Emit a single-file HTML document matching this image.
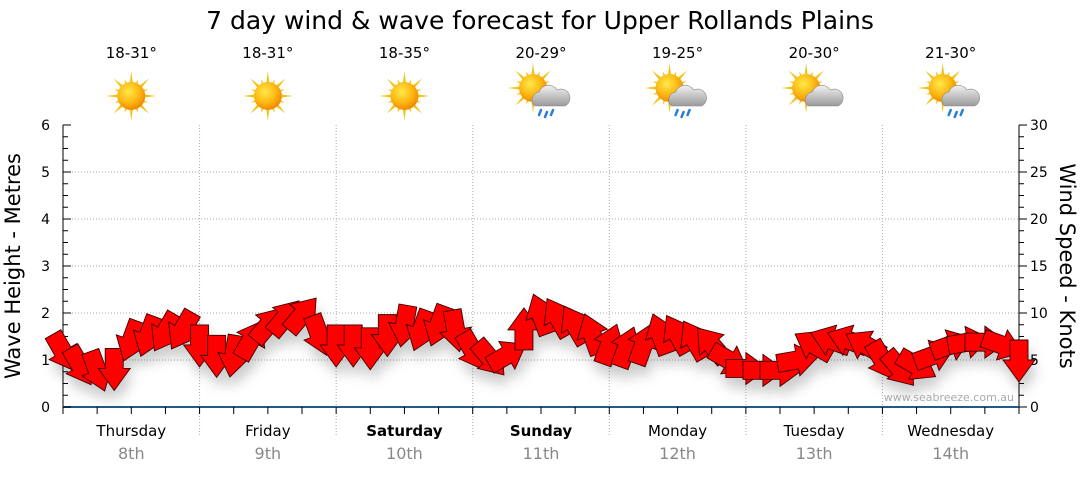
<!DOCTYPE html>
<html><head><meta charset="utf-8"><style>
body{margin:0;background:#fff;width:1080px;height:475px;overflow:hidden;font-family:"Liberation Sans","DejaVu Sans",sans-serif}
svg text{font-family:"DejaVu Sans","Liberation Sans",sans-serif}
</style></head><body>
<svg id="chart" width="1080" height="475" viewBox="0 0 1080 475">
<defs>
<radialGradient id="sunG" cx="40%" cy="35%" r="65%"><stop offset="0" stop-color="#ffe94a"/><stop offset="0.6" stop-color="#fdb813"/><stop offset="1" stop-color="#f08a00"/></radialGradient>
<linearGradient id="cloudG" x1="0" y1="0" x2="0" y2="1"><stop offset="0" stop-color="#f2f2f2"/><stop offset="1" stop-color="#9a9a9a"/></linearGradient>
<filter id="shadow" x="-50%" y="-50%" width="200%" height="200%"><feDropShadow dx="3" dy="10" stdDeviation="6" flood-color="#000" flood-opacity="0.2"/></filter>
</defs>
<text x="540" y="29" font-size="25" text-anchor="middle" fill="#000">7 day wind &amp; wave forecast for Upper Rollands Plains</text>
<g id="grid"></g><g id="axes"></g><g id="weather"></g><g id="arrows" filter="url(#shadow)"></g>
<text x="1014" y="401" font-size="11" fill="#aaa" text-anchor="end">www.seabreeze.com.au</text>
<text transform="translate(20,266) rotate(-90)" font-size="21" text-anchor="middle">Wave Height - Metres</text>
<text transform="translate(1060,266) rotate(90)" font-size="21" text-anchor="middle">Wind Speed - Knots</text>
</svg>
<script>
const days=["Thursday","Friday","Saturday","Sunday","Monday","Tuesday","Wednesday"];
const dates=["8th","9th","10th","11th","12th","13th","14th"];
const boldDays=[false,false,true,true,false,false,false];
const temps=["18-31°","18-31°","18-35°","20-29°","19-25°","20-30°","21-30°"];
const icons=["sun","sun","sun","cloud-rain","cloud-rain","cloud","cloud-rain"];
const waveTicks=[0,1,2,3,4,5,6];
const windTicks=[0,5,10,15,20,25,30];
const windSpeed=[5.9,4.4,3.9,4.1,7.1,7.6,8.0,8.2, 6.6,5.5,5.5,7.1,8.7,9.5,9.8,7.7, 6.6,6.6,6.3,7.7,8.7,8.2,8.7,8.2, 6.0,5.2,5.5,8.2,9.8,9.5,8.7,7.7, 6.6,6.3,6.6,7.7,7.7,7.1,6.6,5.0, 4.1,3.9,3.9,5.0,6.6,7.1,7.1,6.6, 5.0,4.1,4.4,5.5,6.6,6.9,6.9,6.6,5.0];
const windDir=[150,150,160,180,200,200,210,210, 180,180,190,30,40,40,40,160, 180,180,180,180,190,200,200,170, 150,140,60,0,340,330,330,340, 20,20,20,340,330,330,320,120, 90,90,90,80,300,290,290,300, 150,140,120,70,70,80,90,110,180];

const X0=63,X1=1019,Y0=407,Y1=125,NS="http://www.w3.org/2000/svg";
const xHour=h=>X0+(X1-X0)*h/168;
const yWave=m=>Y0-(Y0-Y1)*m/6;
const yWind=k=>Y0-(Y0-Y1)*k/30;
function el(tag,attrs,parent,txt){const e=document.createElementNS(NS,tag);for(const k in attrs)e.setAttribute(k,attrs[k]);if(txt!=null)e.textContent=txt;parent.appendChild(e);return e;}
const grid=document.getElementById('grid'),axes=document.getElementById('axes'),wx=document.getElementById('weather'),ar=document.getElementById('arrows');
for(let i=1;i<=5;i++){const g=el('line',{x1:X0,x2:X1,y1:yWave(i),y2:yWave(i),stroke:'#aaa','stroke-dasharray':'1,2'},grid);

}
for(let d=1;d<7;d++){const g=el('line',{x1:xHour(d*24),x2:xHour(d*24),y1:Y1,y2:Y0+30,stroke:'#aaa','stroke-dasharray':'1,2'},grid);

}
el('line',{x1:X0,x2:X0,y1:Y1,y2:Y0,stroke:'#000'},axes);
el('line',{x1:X1,x2:X1,y1:Y1,y2:Y0,stroke:'#000'},axes);
el('line',{x1:X0,x2:X1,y1:Y0,y2:Y0,stroke:'#1f5a8a','stroke-width':2},axes);
for(let m=0;m<=24;m++){const y=yWave(m/4);const L=m%4==0?8:5;
el('line',{x1:X0,x2:X0+L,y1:y,y2:y,stroke:'#000'},axes);
el('line',{x1:X1,x2:X1+L,y1:y,y2:y,stroke:'#000'},axes);}
waveTicks.forEach(v=>{const t=el('text',{x:50,y:yWave(v)+5,'font-size':14,'text-anchor':'end'},axes,v);

});
windTicks.forEach(v=>{const t=el('text',{x:1030,y:yWind(v)+5,'font-size':14},axes,v);

});
for(let h=0;h<=168;h+=6){el('line',{x1:xHour(h),x2:xHour(h),y1:Y0,y2:Y0+7,stroke:'#000'},axes);}
days.forEach((d,i)=>{const cx=xHour(i*24+12);
const t=el('text',{x:cx,y:436,'font-size':15,'text-anchor':'middle','font-weight':boldDays[i]?'bold':'normal'},axes,d);


const t2=el('text',{x:cx,y:459,'font-size':16,'text-anchor':'middle',fill:'#888'},axes,dates[i]);


const t3=el('text',{x:cx,y:58,'font-size':15,'text-anchor':'middle'},wx,temps[i]);


const g=el('g',{transform:`translate(${cx},${icons[i]=='sun'?96:92})`},wx);


const sx=icons[i]=='sun'?0:-8, sy=icons[i]=='sun'?0:-4;
for(let a=0;a<16;a++){const r=a%2?18:25;const ang=a*Math.PI/8;
el('polygon',{points:`${sx+Math.cos(ang)*r},${sy+Math.sin(ang)*r} ${sx+Math.cos(ang+0.2)*10},${sy+Math.sin(ang+0.2)*10} ${sx+Math.cos(ang-0.2)*10},${sy+Math.sin(ang-0.2)*10}`,fill:'#f2c318'},g);}
el('circle',{cx:sx,cy:sy,r:14,fill:'url(#sunG)'},g);
if(icons[i]!='sun'){el('path',{d:'M-6,14 a8,8 0 0,1 4,-14 a10,10 0 0,1 18,-2 a8,8 0 0,1 8,16 z',fill:'url(#cloudG)',stroke:'#888','stroke-width':0.6},g);
if(icons[i]=='cloud-rain'){[[0,18],[6,20],[12,18]].forEach(p=>el('path',{d:`M${p[0]},${p[1]} l-2,5`,stroke:'#2a7fd0','stroke-width':2.5,'stroke-linecap':'round'},g));}}
});
const shape="M-9,20 L-9,0 L-16,0 L0,-22 L16,0 L9,0 L9,20 Z";
windSpeed.forEach((k,i)=>{const x=xHour(i*3),y=yWind(k);
const a=el('path',{d:shape,transform:`translate(${x},${y}) rotate(${windDir[i]})`,fill:'#ff0000',stroke:'#3a0000','stroke-width':0.9,'stroke-linejoin':'miter'},ar);

});
</script>
</body></html>
